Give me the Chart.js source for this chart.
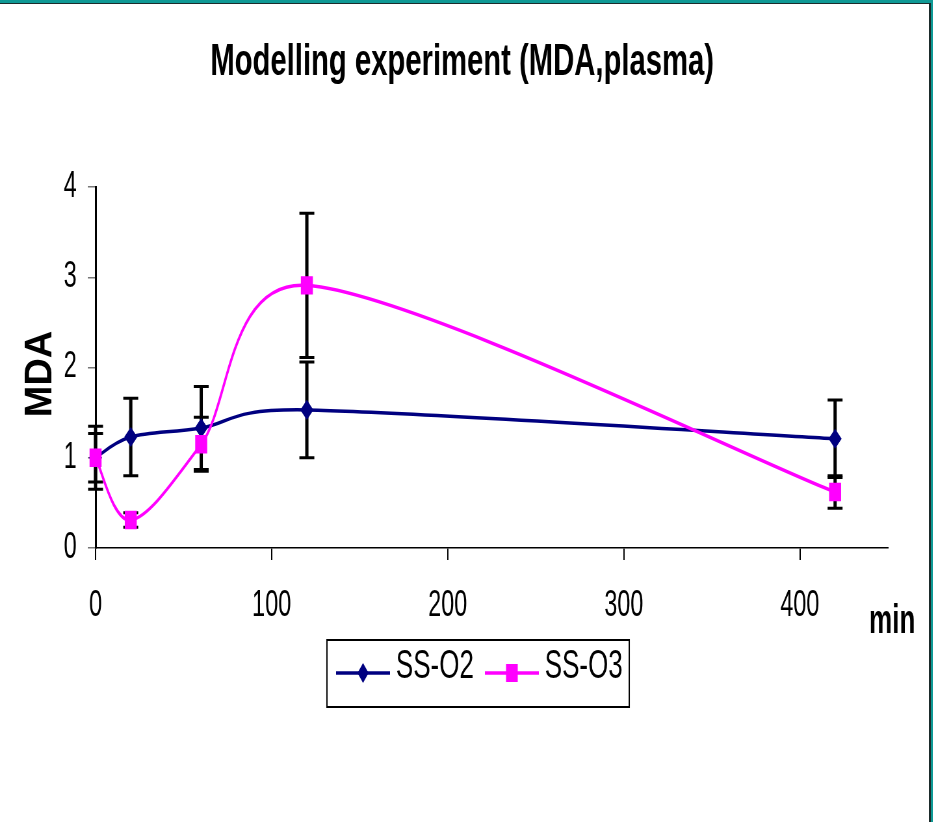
<!DOCTYPE html>
<html>
<head>
<meta charset="utf-8">
<title>Modelling experiment (MDA,plasma)</title>
<script src="https://cdn.jsdelivr.net/npm/chart.js@4.4.1/dist/chart.umd.min.js"></script>
<style>
  html, body { margin: 0; padding: 0; background: #fff; overflow: hidden; }
  #page { position: relative; width: 933px; height: 822px; overflow: hidden; background: #fff; }
  /* the slide art is squeezed sideways, so the chart is drawn wide and narrowed */
  #squeeze { position: absolute; left: 0; top: 0; width: 1435px; height: 822px;
             transform: scaleX(0.65); transform-origin: 0 0; }
  .edge { position: absolute; left: 0; box-sizing: border-box; pointer-events: none; }
  #edgeOuter { top: 0; width: 933px; height: 822px;
               border-top: 3px solid #0f9995; border-right: 2px solid #0f9995; }
  #edgeInner { top: 3px; width: 931px; height: 819px;
               border-top: 1px solid #1d2b2b; border-right: 2px solid #1d2b2b; }
</style>
</head>
<body>
<div id="page">
  <div id="squeeze"><canvas id="chart" width="1435" height="822"></canvas></div>
  <div class="edge" id="edgeOuter"></div>
  <div class="edge" id="edgeInner"></div>
</div>
<script>
const SQUEEZE = 0.65;
const FONT = '"Liberation Sans", Arial, sans-serif';

const chartTitle = 'Modelling experiment (MDA,plasma)';
const xName = 'min';
const yName = 'MDA';

const minutes = [0, 20, 60, 120, 420];
const seriesNames = ['SS-O2', 'SS-O3'];
const ssO2 = [1.0, 1.23, 1.33, 1.53, 1.21];
const ssO2Err = [0.35, 0.43, 0.46, 0.53, 0.43];
const ssO3 = [1.0, 0.31, 1.15, 2.91, 0.62];
const ssO3Err = [0.27, 0.08, 0.30, 0.80, 0.18];
const xTicks = [0, 100, 200, 300, 400];
const yTicks = [0, 1, 2, 3, 4];

const navy = '#000080';
const magenta = '#ff00ff';

// line-with-marker sample for the legend
function legendIcon(color, shape) {
  const c = document.createElement('canvas');
  c.width = 83;
  c.height = 44;
  const g = c.getContext('2d');
  g.strokeStyle = color;
  g.fillStyle = color;
  g.lineWidth = 3.5;
  g.beginPath();
  g.moveTo(0, 28);
  g.lineTo(83, 28);
  g.stroke();
  g.beginPath();
  if (shape === 'diamond') {
    g.moveTo(41.5, 18);
    g.lineTo(50, 28);
    g.lineTo(41.5, 38);
    g.lineTo(33, 28);
    g.closePath();
  } else {
    g.rect(32.5, 19, 18, 18);
  }
  g.fill();
  return c;
}
const icons = [legendIcon(navy, 'diamond'), legendIcon(magenta, 'square')];

// spreadsheet-style smoothing: tangent = (next - prev) / 6,
// a handle never reaches past 3/4 of its own segment
function handle(p, q, dx, dy) {
  const room = 0.75 * Math.abs(q.x - p.x);
  const k = Math.abs(dx) > room && dx !== 0 ? room / Math.abs(dx) : 1;
  return [dx * k, dy * k];
}

const smoothLines = {
  id: 'smoothLines',
  beforeDatasetDraw(chart, args) {
    const line = args.meta.dataset;
    const pts = args.meta.data;
    if (!line || pts.length < 2) return;
    for (let i = 0; i < pts.length; i++) {
      const p = pts[i];
      const prev = pts[Math.max(i - 1, 0)];
      const next = pts[Math.min(i + 1, pts.length - 1)];
      const dx = (next.x - prev.x) / 6;
      const dy = (next.y - prev.y) / 6;
      const [ax, ay] = handle(p, prev, dx, dy);
      const [bx, by] = handle(p, next, dx, dy);
      p.cp1x = p.x - ax;
      p.cp1y = p.y - ay;
      p.cp2x = p.x + bx;
      p.cp2y = p.y + by;
    }
    line._pointsUpdated = true;
    line._path = undefined;
  }
};

const errorBars = {
  id: 'errorBars',
  beforeDatasetsDraw(chart) {
    const {ctx, scales: {x, y}} = chart;
    ctx.save();
    ctx.strokeStyle = '#000';
    chart.data.datasets.forEach(ds => {
      ds.data.forEach((pt, i) => {
        const px = x.getPixelForValue(pt.x);
        const top = y.getPixelForValue(pt.y + ds.errors[i]);
        const bot = y.getPixelForValue(pt.y - ds.errors[i]);
        ctx.lineWidth = 5;
        ctx.beginPath();
        ctx.moveTo(px, top);
        ctx.lineTo(px, bot);
        ctx.stroke();
        ctx.lineWidth = 3;
        ctx.beginPath();
        ctx.moveTo(px - 11.5, top);
        ctx.lineTo(px + 11.5, top);
        ctx.moveTo(px - 11.5, bot);
        ctx.lineTo(px + 11.5, bot);
        ctx.stroke();
      });
    });
    ctx.restore();
  }
};

const extras = {
  id: 'extras',
  afterLayout(chart) {
    // legend sits a little right of the title
    chart.legend.left += 32;
    chart.legend.right += 32;
  },
  afterDraw(chart) {
    const {ctx, chartArea} = chart;
    ctx.save();
    ctx.fillStyle = '#000';
    ctx.font = 'bold 40px ' + FONT;
    ctx.textAlign = 'left';
    ctx.textBaseline = 'alphabetic';
    ctx.fillText(xName, chartArea.right - 29, chartArea.bottom + 85);

    // vertical axis name keeps its own proportions
    ctx.save();
    ctx.translate(41 / SQUEEZE, chartArea.top + 187);
    ctx.scale(1 / SQUEEZE, 1);
    ctx.rotate(-Math.PI / 2);
    ctx.font = 'bold 38px ' + FONT;
    ctx.textAlign = 'center';
    ctx.textBaseline = 'middle';
    ctx.fillText(yName, 0, 0);
    ctx.restore();

    // frame round the legend
    const hb = chart.legend.legendHitBoxes;
    if (hb && hb.length) {
      const first = hb[0];
      const last = hb[hb.length - 1];
      const mid = first.top + first.height / 2;
      const left = first.left - 25;
      const right = last.left + last.width + 10;
      ctx.strokeStyle = '#000';
      ctx.lineWidth = 2;
      ctx.strokeRect(left, mid - 27, right - left, 67);
    }
    ctx.restore();
  }
};

new Chart(document.getElementById('chart'), {
  type: 'line',
  data: {
    datasets: [
      {
        label: seriesNames[0],
        data: minutes.map((m, i) => ({x: m, y: ssO2[i]})),
        errors: ssO2Err,
        borderColor: navy,
        backgroundColor: navy,
        borderWidth: 3.5,
        tension: 0.4,
        pointStyle: 'rectRot',
        pointRadius: 9,
        pointBorderWidth: 1.5,
        pointBackgroundColor: navy,
        pointBorderColor: navy,
        clip: false,
        order: 1
      },
      {
        label: seriesNames[1],
        data: minutes.map((m, i) => ({x: m, y: ssO3[i]})),
        errors: ssO3Err,
        borderColor: magenta,
        backgroundColor: magenta,
        borderWidth: 3.5,
        tension: 0.4,
        pointStyle: 'rect',
        pointRadius: 12,
        pointBorderWidth: 1.5,
        pointBackgroundColor: magenta,
        pointBorderColor: magenta,
        clip: false,
        order: 0
      }
    ]
  },
  options: {
    responsive: false,
    animation: false,
    devicePixelRatio: 1,
    events: [],
    layout: { padding: { left: 56, right: 69, top: 0, bottom: 125 } },
    scales: {
      x: {
        type: 'linear',
        min: 0,
        max: 450,
        afterBuildTicks: s => { s.ticks = xTicks.map(v => ({value: v})); },
        afterFit: s => { s.height = 71; },
        grid: { drawOnChartArea: false, drawTicks: true, tickLength: 12, color: '#000', lineWidth: 2 },
        border: { display: true, color: '#000', width: 1.5 },
        ticks: { color: '#000', padding: 32, autoSkip: false, maxRotation: 0,
                 font: { family: FONT, size: 36, lineHeight: 0.8 } }
      },
      y: {
        type: 'linear',
        min: 0,
        max: 4,
        afterBuildTicks: s => { s.ticks = yTicks.map(v => ({value: v})); },
        afterFit: s => { s.width = 91; },
        grid: { drawOnChartArea: false, drawTicks: true, tickLength: 12, color: '#777', lineWidth: 1.5 },
        border: { display: true, color: '#000', width: 3 },
        ticks: { color: '#000', padding: 17, font: { family: FONT, size: 36 } }
      }
    },
    plugins: {
      title: {
        display: true,
        text: chartTitle,
        color: '#000',
        font: { family: FONT, size: 45, weight: 'bold', lineHeight: 1.2 },
        padding: { top: 36, bottom: 97 }
      },
      legend: {
        position: 'bottom',
        labels: {
          usePointStyle: true,
          pointStyleWidth: 61,
          padding: 28,
          color: '#000',
          font: { family: FONT, size: 40 },
          sort: (a, b) => a.datasetIndex - b.datasetIndex,
          generateLabels(chart) {
            const items = Chart.defaults.plugins.legend.labels.generateLabels(chart);
            items.forEach(it => { it.pointStyle = icons[it.datasetIndex]; });
            return items;
          }
        }
      },
      tooltip: { enabled: false }
    }
  },
  plugins: [smoothLines, errorBars, extras]
});
</script>
</body>
</html>
